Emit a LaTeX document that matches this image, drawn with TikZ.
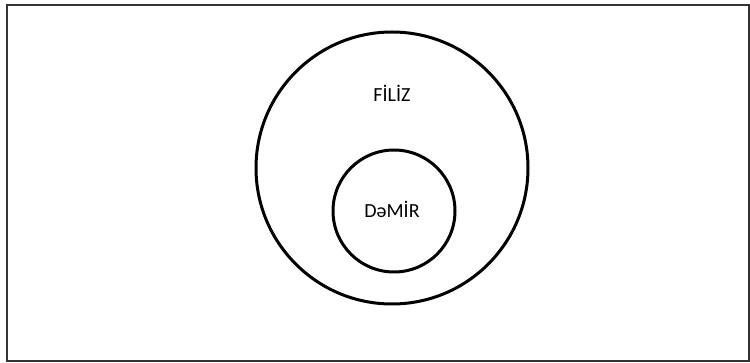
\documentclass[tikz,border=0pt]{standalone}
\usepackage{fontspec}
\setmainfont{Carlito}
\begin{document}
\begin{tikzpicture}[x=1pt,y=-1pt,
  frame/.style={draw=black!80,line width=2pt},
  ring/.style={draw=black,line width=3pt,circle,inner sep=0pt},
  lbl/.style={font=\fontsize{20}{24}\selectfont,inner sep=0pt}]
\useasboundingbox (0,0) rectangle (750,363);
\draw[frame] (7,5) rectangle (749,361);
\node[ring,minimum size=272pt] (filiz) at (392,168) {};
\node[ring,minimum size=122pt] (demir) at (394,211) {};
\node[lbl] (t1) at (392,93) {FİLİZ};
\node[lbl] (t2) at (392,209) {DəMİR};
\end{tikzpicture}
\end{document}
